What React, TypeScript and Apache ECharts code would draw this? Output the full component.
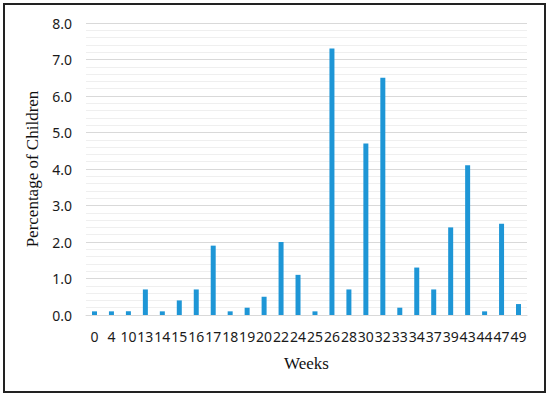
import React, { useEffect, useRef } from "react";
import * as echarts from "echarts";

const weeks = ["0","4","10","13","14","15","16","17","18","19","20","22","24","25","26","28","30","32","33","34","37","39","43","44","47","49"];
const percentages = [0.1,0.1,0.1,0.7,0.1,0.4,0.7,1.9,0.1,0.2,0.5,2.0,1.1,0.1,7.3,0.7,4.7,6.5,0.2,1.3,0.7,2.4,4.1,0.1,2.5,0.3];
const yMin = 0;
const yMax = 8;
const yInterval = 1;

export default function App() {
  const ref = useRef<HTMLDivElement>(null);
  useEffect(() => {
    document.body.style.margin = "0";
    const chart = echarts.init(ref.current!, undefined, { renderer: "svg" });
    chart.setOption({
      animation: false,
      backgroundColor: "#ffffff",
      graphic: [
        {
          type: "rect",
          shape: { x: 4, y: 4, width: 541, height: 388 },
          style: { fill: "none", stroke: "#222222", lineWidth: 2 },
          silent: true,
        },
      ],
      grid: { left: 86, right: 23, top: 23, bottom: 81 },
      xAxis: {
        type: "category",
        data: weeks,
        name: "Weeks",
        nameLocation: "middle",
        nameGap: 40,
        nameTextStyle: { fontFamily: "Liberation Serif", fontSize: 17, color: "#111111" },
        axisTick: { show: false },
        axisLine: { lineStyle: { color: "#d9d9d9", width: 1 } },
        axisLabel: {
          interval: 0,
          margin: 14,
          fontFamily: "Noto Sans",
          fontSize: 14,
          color: "#1a1a1a",
        },
      },
      yAxis: {
        type: "value",
        min: yMin,
        max: yMax,
        interval: yInterval,
        name: "Percentage of Children",
        nameLocation: "middle",
        nameGap: 38,
        nameTextStyle: { fontFamily: "Liberation Serif", fontSize: 17, color: "#111111" },
        axisLine: { show: false },
        axisTick: { show: false },
        axisLabel: {
          margin: 14,
          fontFamily: "Noto Sans",
          fontSize: 14,
          color: "#1a1a1a",
          formatter: (v: number) => v.toFixed(1),
        },
        splitLine: { lineStyle: { color: "#d9d9d9", width: 1 } },
        minorTick: { show: false, splitNumber: 5 },
        minorSplitLine: { show: true, lineStyle: { color: "#efefef", width: 1 } },
      },
      series: [
        {
          type: "bar",
          data: percentages,
          barWidth: 5,
          itemStyle: { color: "#1E96D6" },
        },
      ],
    });
    return () => chart.dispose();
  }, []);
  return <div ref={ref} style={{ width: 550, height: 396 }} />;
}
